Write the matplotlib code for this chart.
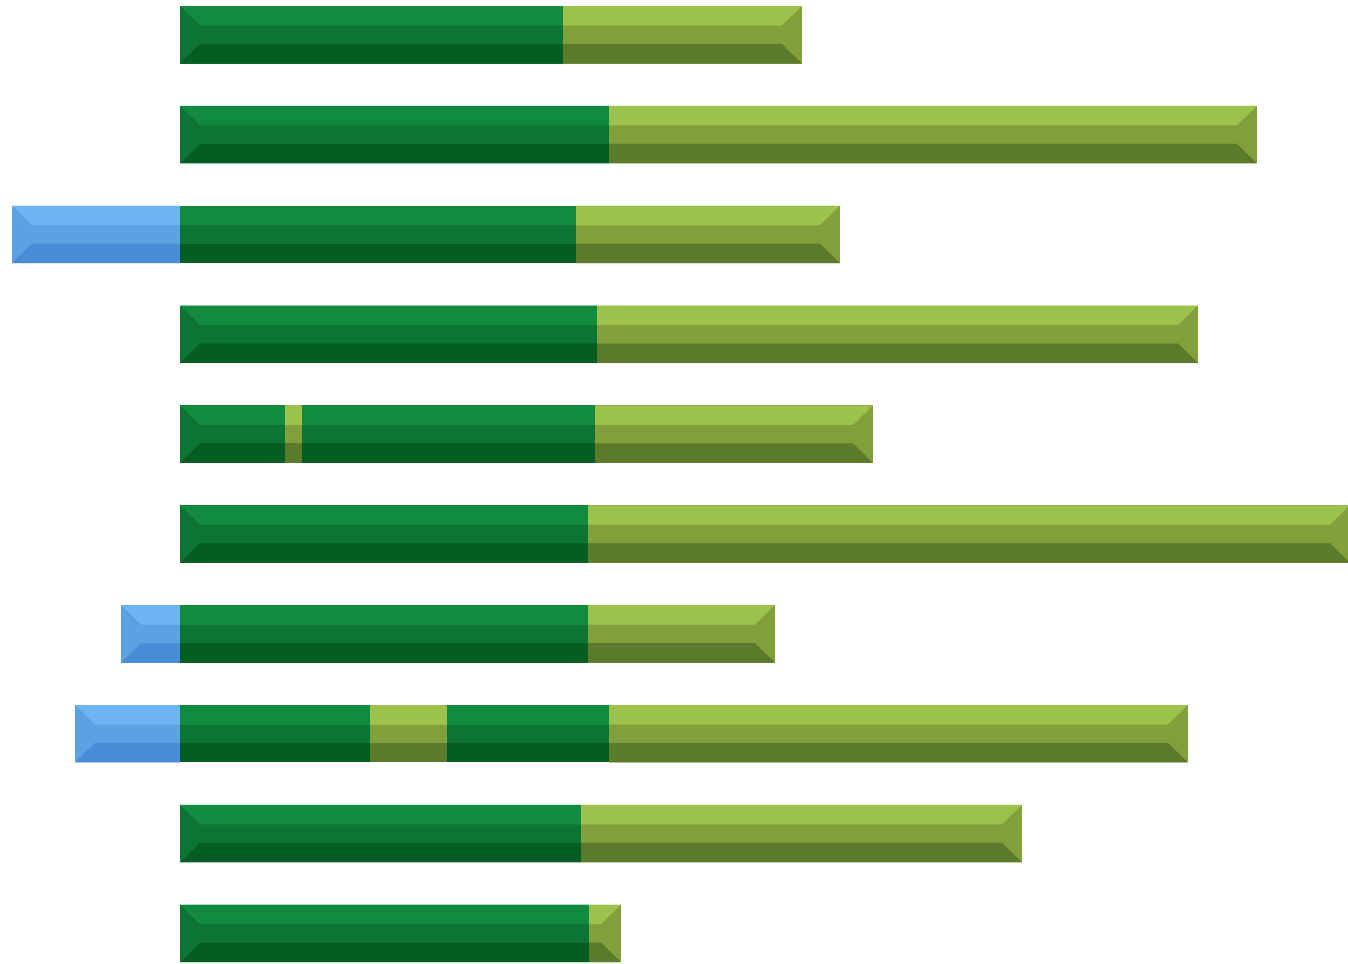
import numpy as np
import matplotlib
matplotlib.use('Agg')
import matplotlib.pyplot as plt
from matplotlib.patches import Polygon

# valores por barra (de cima para baixo); negativos em azul, depois
# segmentos verde-escuro / verde-claro alternados
neg = [0, 0, -16.8, 0, 0, 0, -5.9, -10.5, 0, 0]
dark_a = [38.3, 42.9, 39.6, 41.7, 10.5, 40.8, 40.8, 19.0, 40.1, 40.9]
light_a = [23.9, 64.8, 26.4, 60.1, 1.7, 76.2, 18.7, 7.7, 44.1, 3.2]
dark_b = [0, 0, 0, 0, 29.3, 0, 0, 16.2, 0, 0]
light_b = [0, 0, 0, 0, 27.8, 0, 0, 57.9, 0, 0]

# cores: (topo, meio, base)
BLUE = ('#6db5f2', '#5ba2e2', '#4a8cd5')
DARK = ('#128a40', '#0d7534', '#055d24')
LIGHT = ('#9cc24b', '#80a03b', '#5b7a2b')

H = 0.576      # altura da barra
BEV = 2.0      # largura do chanfro
BAND = 0.34    # fracao de cada faixa (topo e base)


def draw_segment(ax, x0, x1, yc, cols, cap_left, cap_right):
    top, bot = yc - H / 2, yc + H / 2
    t1, b1 = top + H * BAND, bot - H * BAND
    bl = BEV if cap_left else 0
    br = BEV if cap_right else 0
    ax.add_patch(Polygon([(x0, top), (x1, top), (x1, bot), (x0, bot)],
                         closed=True, fc=cols[1], ec='none'))
    ax.add_patch(Polygon([(x0 + bl, t1), (x0, top), (x1, top), (x1 - br, t1)],
                         closed=True, fc=cols[0], ec='none'))
    ax.add_patch(Polygon([(x0, bot), (x0 + bl, b1), (x1 - br, b1), (x1, bot)],
                         closed=True, fc=cols[2], ec='none'))


fig = plt.figure(figsize=(13.48, 9.64), dpi=100)
ax = fig.add_axes([0, 0, 1, 1])

for i in range(len(dark_a)):
    segs = []
    if neg[i] < 0:
        segs.append((neg[i], 0, BLUE))
    x = 0
    for w, c in [(dark_a[i], DARK), (light_a[i], LIGHT),
                 (dark_b[i], DARK), (light_b[i], LIGHT)]:
        if w > 0:
            segs.append((x, x + w, c))
            x += w
    for k, (x0, x1, c) in enumerate(segs):
        draw_segment(ax, x0, x1, i, c, k == 0, k == len(segs) - 1)

ax.set_xlim(-18, 116.8)
ax.set_ylim(9.306, -0.348)
ax.axis('off')
fig.savefig('out.png', dpi=100, facecolor='white')
